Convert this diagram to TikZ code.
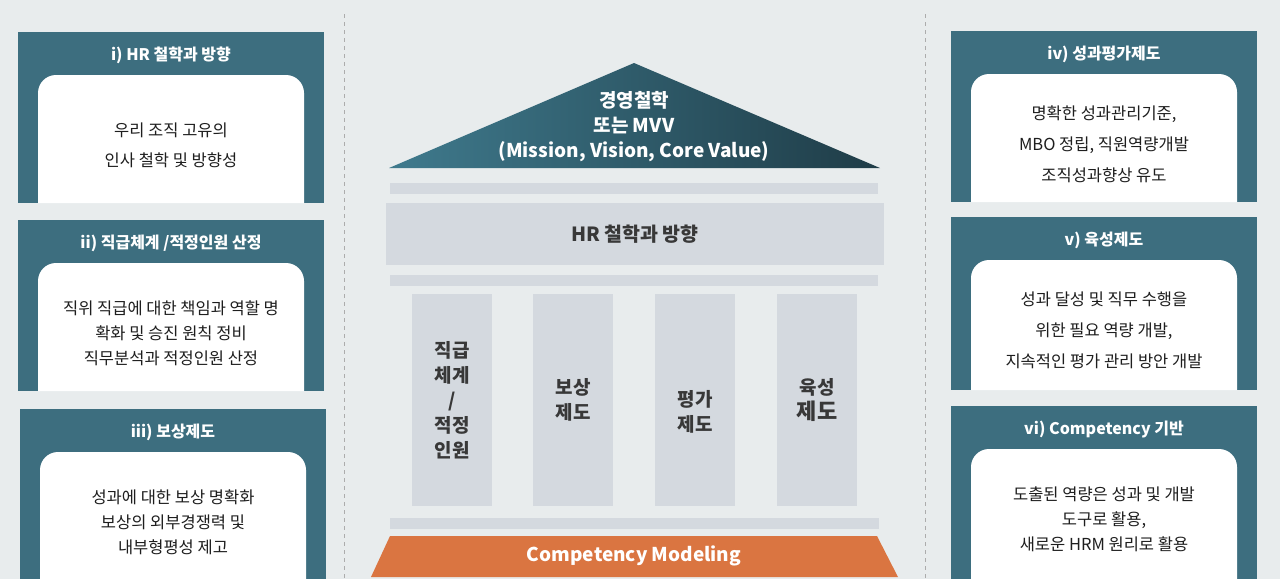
\documentclass[tikz,border=0pt]{standalone}
\usepackage{fontspec}
\setmainfont{Noto Sans CJK KR}
\usepackage{tikz}
\usetikzlibrary{calc}
\definecolor{bgpage}{HTML}{E8ECED}
\definecolor{panelteal}{HTML}{3D6E7F}
\definecolor{barfill}{HTML}{D4D9DF}
\definecolor{rooflight}{HTML}{3F7A8D}
\definecolor{roofdark}{HTML}{1F3C47}
\definecolor{basecol}{HTML}{DA7541}
\definecolor{inktext}{HTML}{1E1E1E}
\definecolor{barink}{HTML}{383838}

\begin{document}
\begin{tikzpicture}[x=1pt,y=-1pt,
      panel/.style={fill=panelteal, inner sep=0pt, outer sep=0pt,
        minimum width=306pt, anchor=north west},
      paneltitle/.style={text=white, font=\fontsize{16pt}{19pt}\selectfont\bfseries},
      panelbody/.style={text=inktext, align=center},
      bar/.style={fill=barfill},
      pillar/.style={fill=barfill, inner sep=0pt, minimum width=80pt, minimum height=212pt},
      pillartext/.style={text=barink, align=center, font=\fontsize{19pt}{25pt}\selectfont\bfseries},
      sepline/.style={draw=gray!65, line width=0.8pt, dash pattern=on 4pt off 4pt}]
      \useasboundingbox (0,0) rectangle (1280,579);
      \fill[bgpage] (0,0) rectangle (1280,579);
      \draw[sepline] (344,14) -- (344,579);
      \draw[sepline] (925,14) -- (925,579);
      % side panels
      \foreach \pn/\px/\pt/\pb/\ls/\ttl/\txt in {
        p1/18/32/203/30/{i) HR 철학과 방향}/{우리 조직 고유의\\인사 철학 및 방향성},
        p2/18/220/391/25/{ii) 직급체계 /적정인원 산정}/{직위 직급에 대한 책임과 역할 명\\확화 및 승진 원칙 정비\\직무분석과 적정인원 산정},
        p3/20/409/579/25/{iii) 보상제도}/{성과에 대한 보상 명확화\\보상의 외부경쟁력 및\\내부형평성 제고},
        p4/951/31/202/31/{iv) 성과평가제도}/{명확한 성과관리기준,\\MBO 정립, 직원역량개발\\조직성과향상 유도},
        p5/951/217/390/31/{v) 육성제도}/{성과 달성 및 직무 수행을\\위한 필요 역량 개발,\\지속적인 평가 관리 방안 개발},
        p6/951/406/579/25/{vi) Competency 기반}/{도출된 역량은 성과 및 개발\\도구로 활용,\\새로운 HRM 원리로 활용}}{
        \node[panel, minimum height={(\pb-\pt)*1pt}] (\pn) at (\px,\pt) {};
        \node[paneltitle] (\pn-title) at ([yshift=-23pt]\pn.north) {\ttl};
        \fill[white] ([xshift=20pt]\pn.south west) [rounded corners=18pt]
          -- ([xshift=20pt,yshift=-43pt]\pn.north west)
          -- ([xshift=-20pt,yshift=-43pt]\pn.north east) [sharp corners]
          -- ([xshift=-20pt]\pn.south east) -- cycle;
        \node[panelbody, font={\fontsize{16.5pt}{\ls pt}\selectfont}] (\pn-body)
          at ([yshift=-113pt]\pn.north) {\txt};
      }
      % roof
      \shade[left color=rooflight, right color=roofdark] (389,168) -- (634,63) -- (880,168) -- cycle;
      \node[text=white, align=center, font=\fontsize{19pt}{25pt}\selectfont\bfseries] (mvv)
        at (634,127) {경영철학\\또는 MVV\\(Mission, Vision, Core Value)};
      \fill[bar] (390,183) rectangle (878,194);
      \node[bar, inner sep=0pt, minimum width=498pt, minimum height=62pt, text=barink,
        font=\fontsize{19.5pt}{22pt}\selectfont\bfseries] (hrbar) at (635,234) {HR 철학과 방향};
      \fill[bar] (390,275) rectangle (878,286);
      % pillars
      \node[pillar] (col1) at (452,400) {};
      \node[pillar] (col2) at (573,400) {};
      \node[pillar] (col3) at (695,400) {};
      \node[pillar] (col4) at (817,400) {};
      \node[pillartext] (col1-text) at (col1) {직급\\체계\\/\\적정\\인원};
      \node[pillartext] (col2-text) at (col2) {보상\\제도};
      \node[pillartext] (col3-text) at ([yshift=-12pt]col3.center) {평가\\제도};
      \node[pillartext] (col4-text) at (col4) {육성\\{\fontsize{22pt}{25pt}\selectfont 제도}};
      \fill[bar] (390,518) rectangle (879,529);
      % base
      \fill[basecol] (390,536) -- (877,536) -- (898,577) -- (371,577) -- cycle;
      \node[text=white, font=\fontsize{19pt}{22pt}\selectfont\bfseries] (compmod)
        at (634,556) {Competency Modeling};
    \end{tikzpicture}
\end{document}
